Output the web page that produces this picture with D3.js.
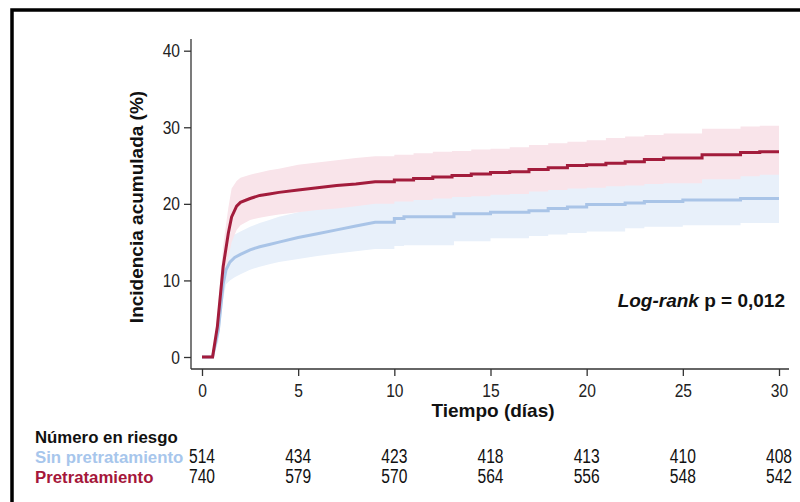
<!DOCTYPE html>
<html><head><meta charset="utf-8">
<script src="https://cdn.jsdelivr.net/npm/d3@7"></script>
<style>body{margin:0;background:#fff}svg{display:block}</style>
</head><body><svg id="c" width="800" height="502"></svg>
<script>
// ---- data ----
const xTicks = [0, 5, 10, 15, 20, 25, 30];
const yTicks = [0, 10, 20, 30, 40];
const groups = ["Sin pretratamiento", "Pretratamiento"];
const atRiskSin = [514, 434, 423, 418, 413, 410, 408];
const atRiskPre = [740, 579, 570, 564, 556, 548, 542];

const preTime  = [0,0.55,0.8,1.1,1.37,1.54,1.8,2.0,2.5,3,3.5,4,5,6,7,8,9,10,11,12,13,14,15,16,17,18,19,20,21,22,23,24,26,28,29,30];
const preValue = [0,0,4.0,11.8,16.2,18.3,19.7,20.2,20.7,21.1,21.3,21.5,21.8,22.1,22.4,22.6,22.9,23.1,23.3,23.5,23.7,23.9,24.1,24.2,24.5,24.7,25.0,25.1,25.3,25.5,25.8,26.0,26.4,26.7,26.8,26.8];
const preUpper = [0,0,5.5,14.5,19.5,22.0,23.0,23.4,23.8,24.1,24.4,24.6,25.1,25.4,25.7,26.0,26.2,26.4,26.6,26.8,26.9,27.1,27.2,27.4,27.7,27.9,28.1,28.3,28.6,28.8,29.0,29.2,29.8,30.1,30.2,30.2];
const preLower = [0,0,2.5,9.0,13.0,15.0,16.6,17.2,17.9,18.2,18.4,18.6,18.9,19.2,19.4,19.7,20.0,20.3,20.5,20.7,20.9,21.0,21.2,21.3,21.6,21.8,22.0,22.1,22.3,22.4,22.6,22.7,23.2,23.6,23.8,23.8];

const sinTime  = [0,0.55,0.85,1.1,1.25,1.45,1.7,2.0,2.5,3,3.5,4,5,6,7,8,9,10,10.5,13.1,15,17,18,19,20,22,23,25,28,30];
const sinValue = [0,0,3.5,9.5,11.4,12.4,13.0,13.4,14.0,14.4,14.7,15.0,15.6,16.1,16.6,17.1,17.6,18.1,18.3,18.7,18.9,19.1,19.4,19.6,19.9,20.1,20.3,20.5,20.7,20.7];
const sinUpper = [0,0,5.0,12.0,14.0,15.5,16.0,16.4,17.0,17.5,17.9,18.3,18.9,19.5,20.0,20.5,21.0,21.6,21.8,22.3,22.5,22.8,23.1,23.3,23.6,23.7,23.9,24.0,24.1,24.1];
const sinLower = [0,0,2.0,7.5,9.5,10.0,10.4,10.8,11.4,11.8,12.1,12.4,12.8,13.2,13.5,13.8,14.1,14.5,14.6,15.1,15.5,15.8,16.0,16.2,16.4,16.8,17.0,17.2,17.5,17.5];
const rampEnd = 9.5; // dense early events drawn continuous, later steps

// ---- setup ----
const svg = d3.select("#c");
const x = d3.scaleLinear().domain([0, 30]).range([202, 779]);
const y = d3.scaleLinear().domain([0, 40]).range([357, 50.7]);
const SANS = "'Liberation Sans',Arial,Helvetica,sans-serif";
const CONDENSE = 0.82; // emulate a condensed face

function condense(sel, k) {
  const f = k || CONDENSE;
  sel.each(function() {
    const w = this.getComputedTextLength();
    d3.select(this).attr("textLength", w * f).attr("lengthAdjust", "spacingAndGlyphs");
  });
}

// frame
svg.append("rect").attr("x", 12).attr("y", 10).attr("width", 820).attr("height", 520)
  .attr("fill", "none").attr("stroke", "#000").attr("stroke-width", 3.5);

function expand(t, v, lo, hi) {
  const out = [{t: t[0], v: v[0], lo: lo[0], hi: hi[0]}];
  for (let i = 1; i < t.length; i++) {
    if (t[i] > rampEnd) out.push({t: t[i], v: v[i-1], lo: lo[i-1], hi: hi[i-1]});
    out.push({t: t[i], v: v[i], lo: lo[i], hi: hi[i]});
  }
  return out;
}
const sinPts = expand(sinTime, sinValue, sinLower, sinUpper);
const prePts = expand(preTime, preValue, preLower, preUpper);

const area = d3.area().x(d => x(d.t)).y0(d => y(d.lo)).y1(d => y(d.hi));
const line = d3.line().x(d => x(d.t)).y(d => y(d.v));

svg.append("path").datum(sinPts).attr("d", area).attr("fill", "#e8f0fa");
svg.append("path").datum(prePts).attr("d", area).attr("fill", "#f9e4ea");
svg.append("path").datum(sinPts).attr("d", line).attr("fill", "none")
  .attr("stroke", "#a9c4e7").attr("stroke-width", 3);
svg.append("path").datum(prePts).attr("d", line).attr("fill", "none")
  .attr("stroke", "#a31c3c").attr("stroke-width", 3);

// axes
const axisColor = "#333";
const gx = svg.append("g").attr("transform", "translate(0,369)")
  .call(d3.axisBottom(x).tickValues(xTicks).tickSize(7).tickPadding(5).tickSizeOuter(0));
gx.select(".domain").attr("d", "M191,0H789");
const gy = svg.append("g").attr("transform", "translate(191,0)")
  .call(d3.axisLeft(y).tickValues(yTicks).tickSize(7).tickPadding(3).tickSizeOuter(0));
gy.select(".domain").attr("d", "M0,39V369");
[gx, gy].forEach(g => {
  g.selectAll(".domain, line").attr("stroke", axisColor).attr("stroke-width", 1.3);
  g.selectAll("text").attr("font-family", SANS).attr("font-size", 19).attr("fill", "#222")
    .call(condense);
});
gx.selectAll("text").attr("dy", "0.85em");
gy.selectAll("text").attr("x", -11);

// titles
svg.append("text").attr("x", 493).attr("y", 417).attr("text-anchor", "middle")
  .attr("font-family", SANS).attr("font-weight", "bold").attr("font-size", 19).attr("fill", "#111")
  .text("Tiempo (días)");
svg.append("text").attr("transform", "translate(143,207) rotate(-90)").attr("text-anchor", "middle")
  .attr("font-family", SANS).attr("font-weight", "bold").attr("font-size", 19).attr("fill", "#111")
  .text("Incidencia acumulada (%)");

// log-rank
const lr = svg.append("text").attr("x", 785).attr("y", 307).attr("text-anchor", "end")
  .attr("font-family", SANS).attr("font-weight", "bold").attr("font-size", 19).attr("fill", "#111");
lr.append("tspan").attr("font-style", "italic").text("Log-rank");
lr.append("tspan").text(" p = 0,012");

// risk table
function tableText(px, py, txt, opts) {
  const t = svg.append("text").attr("x", px).attr("y", py)
    .attr("font-family", SANS).attr("font-size", opts.size)
    .attr("font-weight", opts.bold ? "bold" : "normal")
    .attr("text-anchor", opts.anchor || "start").attr("fill", opts.color || "#111").text(txt);
  if (opts.k) t.call(condense, opts.k);
  return t;
}
tableText(35, 443, "Número en riesgo", {bold: true, size: 16.8});
const rows = [
  {label: groups[0], vals: atRiskSin, color: "#a7c6ec", yy: 463},
  {label: groups[1], vals: atRiskPre, color: "#a5163a", yy: 483}
];
rows.forEach(r => {
  tableText(35, r.yy, r.label, {bold: true, color: r.color, size: 16.8});
  r.vals.forEach((d, i) => tableText(x(xTicks[i]), r.yy, d, {anchor: "middle", size: 20, k: 0.78}));
});
</script></body></html>
